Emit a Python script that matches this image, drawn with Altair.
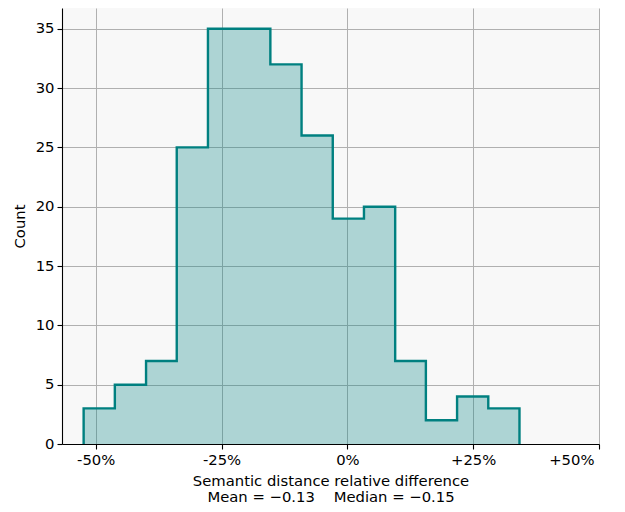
import altair as alt
import pandas as pd

# Bin edges (fraction) and counts
edges = [-0.524, -0.462, -0.400, -0.339, -0.277, -0.215, -0.153, -0.091,
         -0.029, 0.033, 0.095, 0.156, 0.218, 0.280, 0.342]
counts = [3, 5, 7, 25, 35, 35, 32, 26, 19, 20, 7, 2, 4, 3]
x_ticks = [-0.5, -0.25, 0.0, 0.25, 0.5]
y_ticks = [0, 5, 10, 15, 20, 25, 30, 35]
NB = "\u00a0"
x_title = ["Semantic distance relative difference",
           "Mean = \u22120.13" + NB * 4 + "Median = \u22120.15"]

area_df = pd.DataFrame({"x": edges, "y": counts + [counts[-1]]})
line_x = [edges[0]] + edges + [edges[-1]]
line_y = [0] + counts + [counts[-1], 0]
line_df = pd.DataFrame({"x": line_x, "y": line_y, "o": list(range(len(line_x)))})

FONT = "DejaVu Sans"
TEAL = "#008080"
FS = 14.8

xscale = alt.Scale(domain=[-0.567, 0.5], nice=False, zero=False)
yscale = alt.Scale(domain=[0, 36.75], nice=False, zero=True)

xaxis = alt.Axis(
    values=x_ticks,
    labelExpr="datum.value < 0 ? '-' + format(-datum.value, '.0%') : (datum.value > 0 ? '+' + format(datum.value, '.0%') : '0%')",
    labelOffset={"condition": {"test": "datum.value >= 0.5", "value": -5}, "value": 0},
    title=x_title,
    titlePadding=7,
    labelPadding=3,
)
yaxis = alt.Axis(values=y_ticks, title="Count", titlePadding=8, labelPadding=3)

area = alt.Chart(area_df).mark_area(
    interpolate="step-after", color=TEAL, opacity=0.3
).encode(
    x=alt.X("x:Q", scale=xscale, axis=xaxis),
    y=alt.Y("y:Q", scale=yscale, axis=yaxis),
)

line = alt.Chart(line_df).mark_line(
    interpolate="step-after", color=TEAL, strokeWidth=2.4
).encode(
    x=alt.X("x:Q", scale=xscale, axis=xaxis),
    y=alt.Y("y:Q", scale=yscale, axis=yaxis),
    order="o:Q",
)

chart = alt.layer(area, line).properties(
    width=537,
    height=436,
    autosize=alt.AutoSizeParams(type="none"),
    padding={"left": 54, "top": 0, "right": 18, "bottom": 66},
).configure_view(
    fill="#f8f8f8", strokeWidth=0
).configure_axis(
    labelFont=FONT, titleFont=FONT, labelFontSize=FS, titleFontSize=FS,
    labelColor="#000", titleColor="#000", titleFontWeight="normal",
    domainColor="#000", domainWidth=1.1, tickColor="#000", tickWidth=1.1,
    tickSize=5, grid=True, gridColor="#b0b0b0", gridWidth=1,
    titleLineHeight=15.5,
)

chart.save("out.html", embed_options={"renderer": "svg", "actions": False})
